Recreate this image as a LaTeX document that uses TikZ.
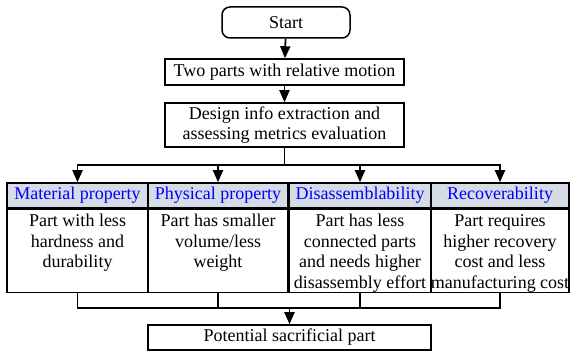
\documentclass[tikz,border=0pt]{standalone}
\usepackage{fontspec}
\setmainfont{Liberation Serif}
\usepackage{xcolor}
\usetikzlibrary{shapes.geometric,arrows.meta,positioning,calc}

\definecolor{headfill}{HTML}{D6DCE5}

\begin{document}
\begin{tikzpicture}[
    x=1pt, y=-1pt,
    % --- STYLES ---
    every node/.style={font=\fontsize{18}{20.5}\selectfont},
    terminal/.style={
        rectangle, rounded corners=8pt,
        draw=black, line width=1.5pt,
        minimum width=128pt, minimum height=31pt
    },
    process/.style={
        rectangle, draw=black, line width=1.5pt,
        minimum width=239pt, align=center, inner sep=2pt
    },
    header/.style={
        rectangle, draw=black, fill=headfill, line width=1.5pt,
        minimum width=141pt, minimum height=25pt,
        text=blue, inner sep=1pt
    },
    body/.style={
        rectangle, draw=black, line width=1.5pt,
        minimum width=141pt, inner sep=3pt
    },
    flow/.style={-{Triangle[width=10pt,length=12pt]}, line width=1.8pt},
    link/.style={line width=1.8pt}
]
\newcommand{\bodytext}[1]{\parbox[t][77pt][t]{130pt}{\makebox[130pt]{%
    \begin{tabular}[t]{@{}c@{}}#1\end{tabular}}}}

\useasboundingbox (0,0) rectangle (571,352);

% ===== 1. TOP CHAIN =====
\node[terminal] (start) at (286,22.5) {Start};
\node[process, minimum height=26pt] (motion) at (284.5,72) {Two parts with relative motion};
\node[process, minimum height=44pt] (design) at (284.5,125)
    {Design info extraction and\\assessing metrics evaluation};

% ===== 2. METRICS =====
\node[header] (matH) at (77.5,195.5) {Material property};
\node[header, minimum width=140pt] (phyH) at (218,195.5) {Physical property};
\node[header, minimum width=142pt] (disH) at (360,195.5) {Disassemblability};
\node[header, minimum width=138pt] (recH) at (500,195.5) {Recoverability};

\node[body, below=0pt of matH] (matB)
    {\bodytext{Part with less\\hardness and\\durability}};
\node[body, minimum width=140pt, below=0pt of phyH] (phyB)
    {\bodytext{Part has smaller\\volume/less\\weight}};
\node[body, minimum width=142pt, below=0pt of disH] (disB)
    {\bodytext{Part has less\\connected parts\\and needs higher\\disassembly effort}};
\node[body, minimum width=138pt, below=0pt of recH] (recB)
    {\bodytext{Part requires\\higher recovery\\cost and less\\manufacturing cost}};

% ===== 3. RESULT =====
\node[process, minimum width=283pt, minimum height=25pt] (result) at (289.5,337.5)
    {Potential sacrificial part};

\coordinate (busT) at (284.5,165);
\coordinate (busB) at (289.5,308);

% ===== 4. CONNECTIONS =====
\draw[flow] (start) -- (motion);
\draw[flow] (motion) -- (design);

% fan out to the four metrics
\draw[link] (design.south) -- (busT);
\draw[flow] (busT) -| (matH.north);
\draw[flow] (busT) -| (phyH.north);
\draw[flow] (busT) -| (disH.north);
\draw[flow] (busT) -| (recH.north);

% gather into the result
\draw[link] (matB.south) |- (busB) -| (recB.south);
\draw[link] (phyB.south) -- (phyB.south |- busB);
\draw[link] (disB.south) -- (disB.south |- busB);
\draw[flow] (busB) -- (result);

\end{tikzpicture}
\end{document}
